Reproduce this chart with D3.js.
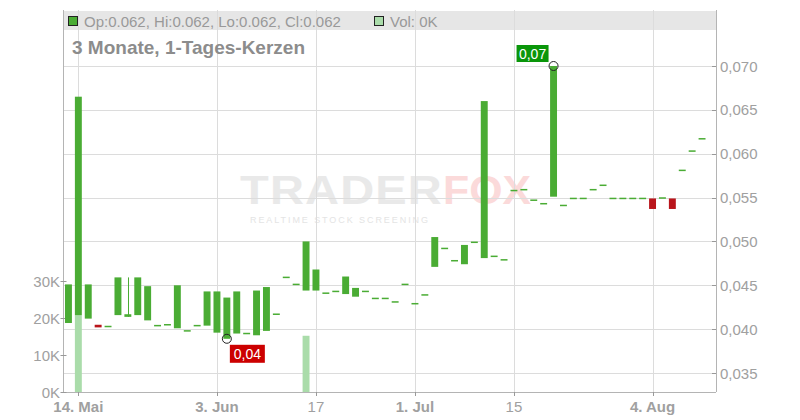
<!DOCTYPE html>
<html><head><meta charset="utf-8">
<script src="https://cdn.jsdelivr.net/npm/d3@7/dist/d3.min.js"></script>
<style>
html,body{margin:0;padding:0;background:#fff;}
svg{display:block;font-family:"Liberation Sans",Arial,sans-serif;}
</style></head><body>
<svg id="c" width="800" height="420"></svg>
<script>
const dates = ["2025-05-13","2025-05-14","2025-05-15","2025-05-16","2025-05-19","2025-05-20","2025-05-21","2025-05-22","2025-05-23",
"2025-05-26","2025-05-27","2025-05-28","2025-05-29","2025-05-30","2025-06-02","2025-06-03","2025-06-04","2025-06-05","2025-06-06",
"2025-06-09","2025-06-10","2025-06-11","2025-06-12","2025-06-13","2025-06-16","2025-06-17","2025-06-18","2025-06-19","2025-06-20",
"2025-06-23","2025-06-24","2025-06-25","2025-06-26","2025-06-27","2025-06-30","2025-07-01","2025-07-02","2025-07-03","2025-07-04",
"2025-07-07","2025-07-08","2025-07-09","2025-07-10","2025-07-11","2025-07-14","2025-07-15","2025-07-16","2025-07-17","2025-07-18",
"2025-07-21","2025-07-22","2025-07-23","2025-07-24","2025-07-25","2025-07-28","2025-07-29","2025-07-30","2025-07-31","2025-08-01",
"2025-08-04","2025-08-05","2025-08-06","2025-08-07","2025-08-08","2025-08-11"];
const opens = [0.0407,0.0416,0.0412,0.0405,0.0403,0.0416,0.0414,0.0416,0.0410,
0.0404,0.0405,0.0401,0.0398,0.0404,0.0404,0.0396,0.0389,0.0395,0.0395,
0.0393,0.0398,0.0417,0.0459,0.0451,0.0444,0.0444,0.0441,0.0443,0.0440,
0.0437,0.0443,0.0435,0.0435,0.0431,0.0451,0.0429,0.0439,0.0471,0.0492,
0.0478,0.0474,0.0499,0.0481,0.0483,0.0479,0.0558,0.0559,0.0547,0.0543,
0.0551,0.0541,0.0549,0.0549,0.0559,0.0564,0.0549,0.0549,0.0549,0.0549,
0.0549,0.0549,0.0549,0.0581,0.0603,0.0617];
const closes = [0.0451,0.0665,0.0451,0.0402,0.0403,0.0459,0.0417,0.0459,0.0449,
0.0404,0.0405,0.0450,0.0398,0.0404,0.0443,0.0443,0.0436,0.0443,0.0395,
0.0444,0.0448,0.0417,0.0459,0.0451,0.0500,0.0468,0.0441,0.0443,0.0460,
0.0447,0.0443,0.0435,0.0435,0.0431,0.0451,0.0429,0.0439,0.0505,0.0492,
0.0478,0.0496,0.0499,0.0660,0.0483,0.0479,0.0558,0.0559,0.0547,0.0543,
0.0700,0.0541,0.0549,0.0549,0.0559,0.0564,0.0549,0.0549,0.0549,0.0549,
0.0537,0.0550,0.0537,0.0581,0.0603,0.0617];
const highs = [0.0451,0.0665,0.0451,0.0405,0.0403,0.0459,0.0459,0.0459,0.0449,
0.0404,0.0405,0.0450,0.0398,0.0404,0.0443,0.0443,0.0436,0.0443,0.0395,
0.0444,0.0448,0.0417,0.0459,0.0451,0.0500,0.0468,0.0441,0.0443,0.0460,
0.0447,0.0443,0.0435,0.0435,0.0431,0.0451,0.0429,0.0439,0.0505,0.0492,
0.0478,0.0496,0.0499,0.0660,0.0483,0.0479,0.0558,0.0559,0.0547,0.0543,
0.0700,0.0541,0.0549,0.0549,0.0559,0.0564,0.0549,0.0549,0.0549,0.0549,
0.0549,0.0550,0.0549,0.0581,0.0603,0.0617];
const lows = [0.0407,0.0416,0.0412,0.0402,0.0403,0.0416,0.0414,0.0416,0.0410,
0.0404,0.0405,0.0401,0.0398,0.0404,0.0404,0.0396,0.0389,0.0395,0.0395,
0.0393,0.0398,0.0417,0.0459,0.0451,0.0444,0.0444,0.0441,0.0443,0.0440,
0.0437,0.0443,0.0435,0.0435,0.0431,0.0451,0.0429,0.0439,0.0471,0.0492,
0.0478,0.0474,0.0499,0.0481,0.0483,0.0479,0.0558,0.0559,0.0547,0.0543,
0.0551,0.0541,0.0549,0.0549,0.0559,0.0564,0.0549,0.0549,0.0549,0.0549,
0.0537,0.0549,0.0537,0.0581,0.0603,0.0617];
// volume in shares; only two days traded visibly
const volumeDates = ["2025-05-14","2025-06-16"];
const volumeValues = [20800,15200];

const priceTicks = [0.035,0.040,0.045,0.050,0.055,0.060,0.065,0.070];
const volumeTicks = [0,10000,20000,30000];
const xTickDates = ["2025-05-14","2025-06-03","2025-06-17","2025-07-01","2025-07-15","2025-08-04"];
const xTickLabels = ["14. Mai","3. Jun","17","1. Jul","15","4. Aug"];
const xTickBold = [true,true,false,true,false,true];

const headerText = "Op:0.062, Hi:0.062, Lo:0.062, Cl:0.062";
const volText = "Vol: 0K";
const titleText = "3 Monate, 1-Tages-Kerzen";

const svg = d3.select("#c");
const L = 63.5, R = 716, T = 10, B = 392;
const x = d3.scaleBand().domain(dates).range([L, 707]).paddingInner(0.3).paddingOuter(0.15);
const y = d3.scaleLinear().domain([0.035,0.070]).range([373,66]);
const yv = d3.scaleLinear().domain([0,30000]).range([B,281]);
const cx = d => x(d) + x.bandwidth()/2;
const green = "#4aac34", red = "#b9151b", gridC = "#dcdcdc", axisC = "#b4b4b4", textC = "#a0a0a0";

// header band
svg.append("rect").attr("x",L).attr("y",11).attr("width",R-L).attr("height",19).attr("fill","#e6e6e6");

// watermark
const wm = svg.append("g");
wm.append("text").attr("x",240).attr("y",204).attr("font-size",40).attr("font-weight","bold")
  .attr("letter-spacing",1).attr("fill","#e9e9e9").attr("textLength",203).attr("lengthAdjust","spacingAndGlyphs").text("TRADER");
wm.append("text").attr("x",443).attr("y",204).attr("font-size",40).attr("font-weight","bold")
  .attr("fill","#fbdada").attr("textLength",88).attr("lengthAdjust","spacingAndGlyphs").text("FOX");
wm.append("text").attr("x",250).attr("y",223).attr("font-size",9).attr("fill","#e4e4e4")
  .attr("textLength",178).attr("lengthAdjust","spacing").text("REALTIME STOCK SCREENING");

// gridlines
const g = svg.append("g");
g.selectAll(".hg").data(priceTicks).join("line")
  .attr("x1",L).attr("x2",R).attr("y1",d=>Math.round(y(d))+0.5).attr("y2",d=>Math.round(y(d))+0.5)
  .attr("stroke",gridC);
g.selectAll(".vg").data(xTickDates).join("line")
  .attr("x1",d=>Math.round(cx(d))+0.5).attr("x2",d=>Math.round(cx(d))+0.5).attr("y1",T).attr("y2",B)
  .attr("stroke",gridC);

// axes lines
svg.append("line").attr("x1",L).attr("x2",L).attr("y1",T).attr("y2",B).attr("stroke",axisC);
svg.append("line").attr("x1",R+0.5).attr("x2",R+0.5).attr("y1",T).attr("y2",B).attr("stroke",axisC);
svg.append("line").attr("x1",L).attr("x2",R).attr("y1",B+0.5).attr("y2",B+0.5).attr("stroke",axisC);

// right price axis
const ra = svg.append("g");
ra.selectAll("line").data(priceTicks).join("line")
  .attr("x1",R-4).attr("x2",R).attr("y1",d=>Math.round(y(d))+0.5).attr("y2",d=>Math.round(y(d))+0.5).attr("stroke","#999");
ra.selectAll("text").data(priceTicks).join("text")
  .attr("x",720).attr("y",d=>y(d)+5.5).attr("font-size",15).attr("fill",textC)
  .text(d=>d3.format(".3f")(d).replace(".",","));

// left volume axis
const la = svg.append("g");
la.selectAll("line").data(volumeTicks).join("line")
  .attr("x1",L-3).attr("x2",L+3).attr("y1",d=>Math.round(yv(d))+0.5).attr("y2",d=>Math.round(yv(d))+0.5).attr("stroke","#999");
la.selectAll("text").data(volumeTicks).join("text")
  .attr("x",60).attr("y",d=>yv(d)+5.5).attr("text-anchor","end").attr("font-size",15).attr("fill",textC)
  .text(d=>(d/1000)+"K");

// x axis
const xa = svg.append("g");
xa.selectAll("line").data(xTickDates).join("line")
  .attr("x1",d=>Math.round(cx(d))+0.5).attr("x2",d=>Math.round(cx(d))+0.5).attr("y1",B).attr("y2",B+4).attr("stroke","#999");
xa.selectAll("text").data(xTickDates).join("text")
  .attr("x",d=>cx(d)).attr("y",412).attr("text-anchor","middle").attr("font-size",15)
  .attr("font-weight",(d,i)=>xTickBold[i]?"bold":"normal").attr("fill",textC)
  .text((d,i)=>xTickLabels[i]);

// volume bars
svg.append("g").selectAll("rect").data(volumeDates.map((d,i)=>({d,v:volumeValues[i]}))).join("rect")
  .attr("x",d=>x(d.d)).attr("width",x.bandwidth()).attr("y",d=>yv(d.v)).attr("height",d=>B-yv(d.v)).attr("fill","#aadcaa");

// candles
const candles = dates.map((d,i)=>({d,o:opens[i],h:highs[i],l:lows[i],c:closes[i]}));
const cg = svg.append("g");
cg.selectAll(".wick").data(candles.filter(c=>c.h>Math.max(c.o,c.c)||c.l<Math.min(c.o,c.c))).join("line")
  .attr("x1",d=>Math.round(cx(d.d))+0.5).attr("x2",d=>Math.round(cx(d.d))+0.5)
  .attr("y1",d=>y(d.h)).attr("y2",d=>y(d.l)).attr("stroke",d=>d.c<d.o?red:green);
cg.selectAll(".body").data(candles).join("rect")
  .attr("x",d=>x(d.d)).attr("width",x.bandwidth())
  .attr("y",d=>{const t=y(Math.max(d.o,d.c)),b=y(Math.min(d.o,d.c));return b-t<1.5?(t+b)/2-0.75:t;})
  .attr("height",d=>Math.max(1.5,y(Math.min(d.o,d.c))-y(Math.max(d.o,d.c))))
  .attr("fill",d=>d.c<d.o?red:green);

// high / low markers
const hiIdx = d3.maxIndex(highs), loIdx = d3.minIndex(lows);
const mk = svg.append("g");
const hx = cx(dates[hiIdx]), hy = y(highs[hiIdx]);
const lx = cx(dates[loIdx]), ly = y(lows[loIdx]);
mk.append("circle").attr("cx",hx).attr("cy",hy).attr("r",4.5).attr("fill","none").attr("stroke","#222");
mk.append("circle").attr("cx",lx).attr("cy",ly).attr("r",4.5).attr("fill","none").attr("stroke","#222");
mk.append("rect").attr("x",hx-37).attr("y",hy-21).attr("width",32).attr("height",17).attr("fill","#0a960a");
mk.append("text").attr("x",hx-21).attr("y",hy-7.5).attr("text-anchor","middle").attr("font-size",14).attr("fill","#fff")
  .text(d3.format(".2f")(highs[hiIdx]).replace(".",","));
mk.append("rect").attr("x",lx+3).attr("y",ly+6).attr("width",35).attr("height",18).attr("fill","#cc0000");
mk.append("text").attr("x",lx+20.5).attr("y",ly+20).attr("text-anchor","middle").attr("font-size",14).attr("fill","#fff")
  .text(d3.format(".2f")(lows[loIdx]).replace(".",","));

// header
svg.append("rect").attr("x",68.5).attr("y",16.5).attr("width",9).attr("height",9).attr("fill",green).attr("stroke","#222");
svg.append("text").attr("x",84).attr("y",26.5).attr("font-size",15).attr("fill","#999").text(headerText);
svg.append("rect").attr("x",374.5).attr("y",16.5).attr("width",9).attr("height",9).attr("fill","#aadcaa").attr("stroke","#222");
svg.append("text").attr("x",390).attr("y",26.5).attr("font-size",15).attr("fill","#999").text(volText);
svg.append("text").attr("x",72).attr("y",53.5).attr("font-size",19).attr("font-weight","bold").attr("fill","#8c8c8c").text(titleText);
</script>
</body></html>
